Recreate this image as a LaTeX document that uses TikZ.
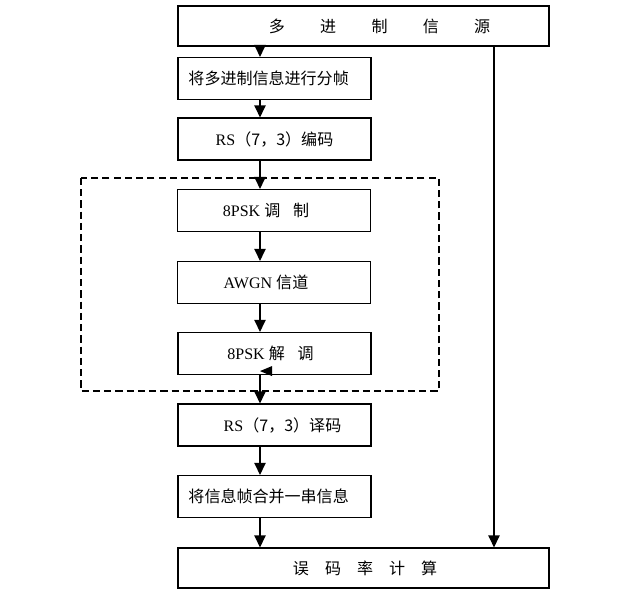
\documentclass[tikz,border=0pt]{standalone}
\usepackage{fontspec}
\setmainfont{Liberation Serif}
\newfontfamily\cjk{Noto Sans CJK SC}
\usetikzlibrary{arrows.meta}
\tikzset{>={Triangle[width=8pt,length=8.5pt]}}
\tikzset{
    blk/.style={draw, line width=0.8pt, minimum width=4.825cm, minimum height=1.05cm, inner sep=0pt},
    wideblk/.style={blk, minimum width=9.275cm, minimum height=1.0cm},
    leftblk/.style={blk, text width=4.3cm, align=left},
    flow/.style={->, line width=0.8pt},
}

\begin{document}
\begin{tikzpicture}[x=0.025cm, y=-0.025cm, font=\fontsize{11.4}{13}\selectfont]
    \useasboundingbox (0,0) rectangle (631,597);
    % channel part
    \draw[dashed, dash pattern=on 5pt off 3pt, line width=0.8pt] (81,178) rectangle (439,391);
    \node[wideblk] (src)   at (363.5,26)  {\cjk\hspace*{2em}多\hspace{2.2em}进\hspace{2.2em}制\hspace{2.2em}信\hspace{2.2em}源};
    \node[leftblk] (frame) at (274.5,78.5) {\cjk 将多进制信息进行分帧};
    \node[blk]     (enc)   at (274.5,139) {RS{\cjk（7，3）编码}};
    \node[blk]     (mod)   at (274,210.5) {\hspace*{-1em}8PSK {\cjk 调\hspace{0.8em}制}};
    \node[blk]     (awgn)  at (274,282.5) {\hspace*{-1em}AWGN {\cjk 信道}};
    \node[blk]     (demod) at (274.5,353.5) {\hspace*{-0.5em}8PSK {\cjk 解\hspace{0.8em}调}};
    \node[blk]     (dec)   at (274.5,425) {\hspace*{1em}RS{\cjk（7，3）译码}};
    \node[leftblk] (merge) at (274.5,496.5) {\cjk 将信息帧合并一串信息};
    \node[wideblk] (ber)   at (363.5,568) {\cjk\hspace*{0.2em}误\hspace{1em}码\hspace{1em}率\hspace{1em}计\hspace{1em}算};
    \coordinate (col)  at (260,0);
    \coordinate (rcol) at (494,0);
    \foreach \a/\b in {src/frame, frame/enc, enc/mod, mod/awgn, awgn/demod, demod/dec, dec/merge, merge/ber}
        \draw[flow] (\a.south -| col) -- (\b.north -| col);
    \draw[flow] (src.south -| rcol) -- (ber.north -| rcol);
    \fill (col |- demod.south) ++(0,-4) -- ++(12,-5) -- ++(0,10) -- cycle;
\end{tikzpicture}
\end{document}
